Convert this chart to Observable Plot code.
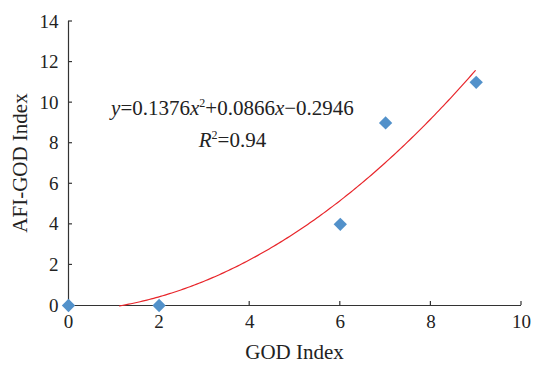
<!DOCTYPE html>
<html><head><meta charset="utf-8">
<script src="https://cdn.jsdelivr.net/npm/d3@7"></script>
<script src="https://cdn.jsdelivr.net/npm/@observablehq/plot@0.6"></script>
<style>body{margin:0;background:#fff} svg text{font-family:'Liberation Serif','Times New Roman',serif !important}</style>
</head><body><div id="chart"></div>
<script>
const godIndex = [0, 2, 6, 7, 9];
const afiGodIndex = [0, 0, 4, 9, 11];
const fitCoef = [0.1376, 0.0866, -0.2946]; // a, b, c
const fitRange = [1.13, 9];
const xTicks = [0, 2, 4, 6, 8, 10];
const yTicks = [0, 2, 4, 6, 8, 10, 12, 14];

const points = godIndex.map((x, i) => ({x, y: afiGodIndex[i]}));
const fitX = d3.range(fitRange[0], fitRange[1] + 0.001, 0.05);
const fit = fitX.map(x => ({x, y: fitCoef[0]*x*x + fitCoef[1]*x + fitCoef[2]}));

const font = "'Liberation Serif', 'Times New Roman', serif";
const plot = Plot.plot({
  width: 534, height: 365,
  marginLeft: 68, marginRight: 13, marginTop: 21, marginBottom: 60,
  style: {fontFamily: font, fontSize: "19px", color: "#222", background: "#fff"},
  x: {domain: [0, 10], label: null},
  y: {domain: [0, 14], label: null},
  marks: [
    Plot.ruleY([0], {stroke: "#333", strokeWidth: 1.2}),
    Plot.ruleX([0], {stroke: "#333", strokeWidth: 1.2}),
    Plot.line(fit, {x: "x", y: "y", stroke: "#e8262b", strokeWidth: 1.2}),
    Plot.dot(points, {x: "x", y: "y", symbol: "diamond2", r: 6, fill: "#5291ca", stroke: "none"}),
    Plot.axisX(xTicks, {tickSize: 0, tickPadding: 9, fontSize: 19, fontFamily: font, fill: "#222", label: null}),
    Plot.axisY(yTicks, {tickSize: 0, tickPadding: 10, fontSize: 19, fontFamily: font, fill: "#222", label: null})
  ]
});

// inward ticks positioned through the scales
const sx = plot.scale("x"), sy = plot.scale("y");
const svg = d3.select(plot);
const g = svg.insert("g", ":first-child").attr("stroke", "#333").attr("stroke-width", 1.2);
xTicks.filter(d => d > 0).forEach(t => g.append("line").attr("x1", sx.apply(t)).attr("x2", sx.apply(t)).attr("y1", sy.apply(0)).attr("y2", sy.apply(0) - 4));
yTicks.filter(d => d > 0).forEach(t => g.append("line").attr("y1", sy.apply(t)).attr("y2", sy.apply(t)).attr("x1", sx.apply(0)).attr("x2", sx.apply(0) + 4));

// axis titles
svg.append("text").attr("x", sx.apply(5)).attr("y", 359).attr("text-anchor", "middle")
  .attr("font-size", 21).attr("fill", "#222").text("GOD Index");
svg.append("text").attr("transform", `translate(27,${(sy.apply(0)+sy.apply(14))/2}) rotate(-90)`)
  .attr("text-anchor", "middle").attr("font-size", 21).attr("fill", "#222").text("AFI-GOD Index");

// equation
const eq = svg.append("text").attr("x", sx.apply(3.63)).attr("y", sy.apply(9.7) + 7).attr("text-anchor", "middle")
  .attr("font-size", 21).attr("fill", "#222");
eq.append("tspan").attr("font-style", "italic").text("y");
eq.append("tspan").text("=0.1376");
eq.append("tspan").attr("font-style", "italic").text("x");
eq.append("tspan").attr("font-size", 12).attr("dy", -8).text("2");
eq.append("tspan").attr("dy", 8).text("+0.0866");
eq.append("tspan").attr("font-style", "italic").text("x");
eq.append("tspan").text("\u22120.2946");
const r2 = svg.append("text").attr("x", sx.apply(3.63)).attr("y", sy.apply(8.15) + 7).attr("text-anchor", "middle")
  .attr("font-size", 21).attr("fill", "#222");
r2.append("tspan").attr("font-style", "italic").text("R");
r2.append("tspan").attr("font-size", 12).attr("dy", -8).text("2");
r2.append("tspan").attr("dy", 8).text("=0.94");

document.getElementById("chart").append(plot);
</script></body></html>
